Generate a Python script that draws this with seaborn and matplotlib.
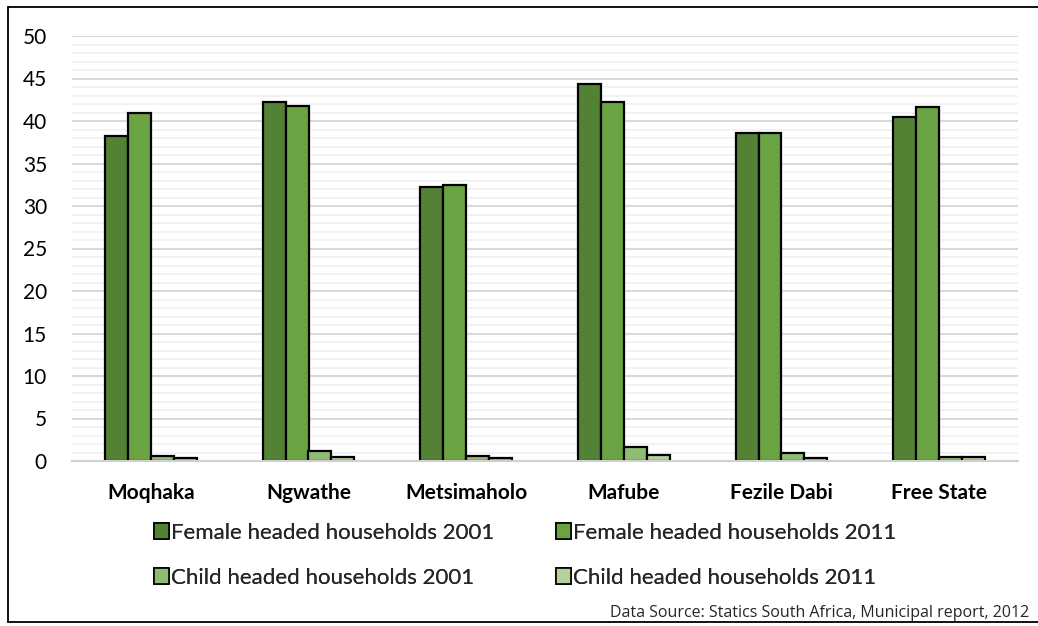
import matplotlib
matplotlib.use("Agg")
import matplotlib.pyplot as plt
import seaborn as sns
import pandas as pd
from matplotlib.patches import Patch
from matplotlib.lines import Line2D

regions = ["Moqhaka", "Ngwathe", "Metsimaholo", "Mafube", "Fezile Dabi", "Free State"]
series_names = ["Female headed households 2001", "Female headed households 2011",
                "Child headed households 2001", "Child headed households 2011"]
female_2001 = [38.2, 42.2, 32.2, 44.4, 38.6, 40.5]
female_2011 = [40.9, 41.8, 32.5, 42.2, 38.6, 41.6]
child_2001 = [0.6, 1.2, 0.6, 1.7, 0.9, 0.5]
child_2011 = [0.3, 0.5, 0.3, 0.7, 0.4, 0.5]
colors = ["#548235", "#6AA342", "#8FBC72", "#B4D29E"]

rows = []
for name, vals in zip(series_names, [female_2001, female_2011, child_2001, child_2011]):
    for r, v in zip(regions, vals):
        rows.append({"Region": r, "Series": name, "Value": v})
df = pd.DataFrame(rows)

sns.set_theme(style="white")
plt.rcParams['font.family'] = ['Lato', 'DejaVu Sans']

fig = plt.figure(figsize=(10.38, 6.26), dpi=100)
ax = fig.add_axes([72/1038, 1-461/626, 946/1038, 425/626])

sns.barplot(data=df, x="Region", y="Value", hue="Series", hue_order=series_names,
            palette=colors, width=0.58, edgecolor="black", linewidth=1.6,
            saturation=1, legend=False, ax=ax, errorbar=None)

ax.set_ylim(0, 50)
ax.set_xlim(-0.5, len(regions) - 0.5)
ax.set_yticks(range(0, 51, 5))
ax.set_yticks(range(0, 51, 1), minor=True)
ax.grid(axis="y", which="major", color="#D9D9D9", linewidth=1.5, zorder=0)
ax.grid(axis="y", which="minor", color="#F0F0F0", linewidth=1.2, zorder=0)
ax.grid(axis="x", visible=False)
ax.set_axisbelow(True)
for s in ["top", "right", "left"]:
    ax.spines[s].set_visible(False)
ax.spines["bottom"].set_color("#D0D0D0")
ax.spines["bottom"].set_linewidth(1.5)
ax.tick_params(axis="both", which="both", length=0)
ax.tick_params(axis="y", labelsize=15, pad=18, labelcolor="black")
ax.tick_params(axis="x", labelsize=15, pad=16, labelcolor="black")
for lbl in ax.get_xticklabels():
    lbl.set_fontweight("bold")
ax.set_xlabel("")
ax.set_ylabel("")

handles = [Patch(facecolor=c, edgecolor="black", linewidth=1.2) for c in colors]
legend_font = {"family": ["Lato", "DejaVu Sans"], "size": 16}
col_x = [147/1038, 549/1038]
for ci, idxs in enumerate([[0, 2], [1, 3]]):
    leg = fig.legend([handles[i] for i in idxs], [series_names[i] for i in idxs],
                     loc="upper left", bbox_to_anchor=(col_x[ci], 1-516/626),
                     ncol=1, frameon=False, prop=legend_font, handlelength=0.7,
                     handleheight=0.7, handletextpad=0.1, labelspacing=1.12,
                     borderaxespad=0, borderpad=0.3)
    fig.add_artist(leg)

fig.text(610/1038, 1-613/626, "Data Source: Statics South Africa, Municipal report, 2012",
         fontsize=11.5, ha="left", va="center", family=['Open Sans', 'DejaVu Sans'])

# frame around figure
fig.add_artist(Line2D([8/1038, 8/1038], [1-7/626, 1-622/626], color="black", lw=1.3, transform=fig.transFigure))
fig.add_artist(Line2D([8/1038, 1.0], [1-7/626, 1-7/626], color="black", lw=1.3, transform=fig.transFigure))
fig.add_artist(Line2D([8/1038, 1.0], [1-622/626, 1-622/626], color="black", lw=1.3, transform=fig.transFigure))

fig.savefig("out.png", dpi=100)
